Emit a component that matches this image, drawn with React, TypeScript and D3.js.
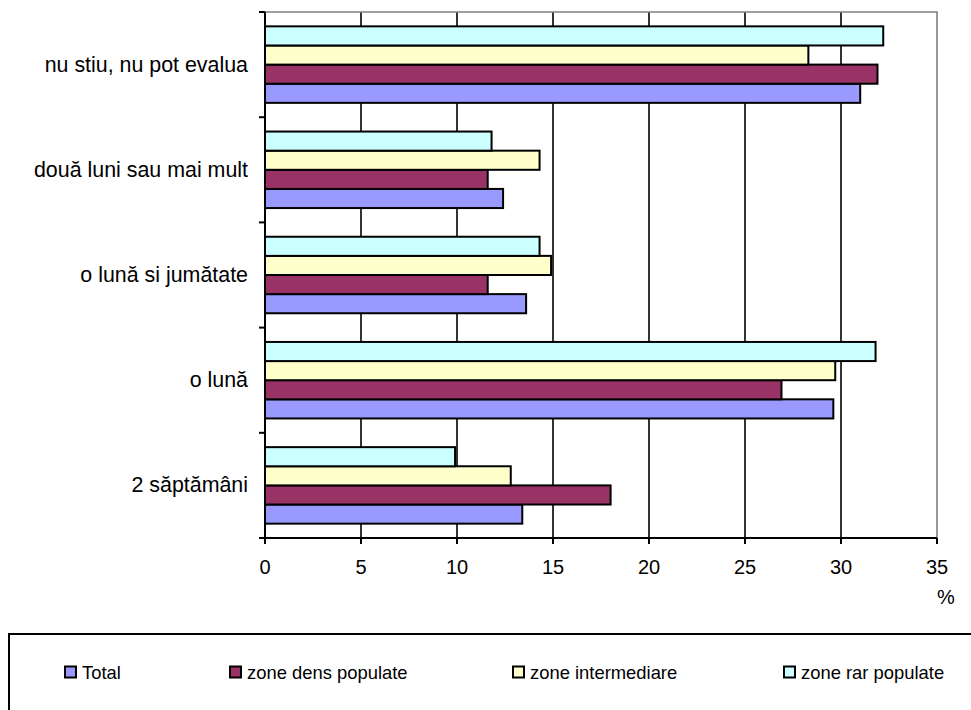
import { useEffect, useRef } from 'react'
import * as d3 from 'd3'

// data order is bottom-to-top, like the Excel source
const categories = [
  '2 săptămâni',
  'o lună',
  'o lună si jumătate',
  'două luni sau mai mult',
  'nu stiu, nu pot evalua',
]

const seriesNames = ['Total', 'zone dens populate', 'zone intermediare', 'zone rar populate']

const totalValues = [13.4, 29.6, 13.6, 12.4, 31.0]
const densValues = [18.0, 26.9, 11.6, 11.6, 31.9]
const intermediareValues = [12.8, 29.7, 14.9, 14.3, 28.3]
const rarValues = [9.9, 31.8, 14.3, 11.8, 32.2]

const xTicks = [0, 5, 10, 15, 20, 25, 30, 35]

const colors = ['#9999FF', '#993366', '#FFFFCC', '#CCFFFF']

const FONT = '"Liberation Sans", Arial, sans-serif'

export default function App() {
  const svgRef = useRef<SVGSVGElement>(null)

  useEffect(() => {
    if (!svgRef.current) return
    const svg = d3.select(svgRef.current)
    svg.selectAll('*').remove()

    const width = 971
    const height = 710
    const plot = { left: 265, right: 937, top: 12, bottom: 538 }

    const values = [totalValues, densValues, intermediareValues, rarValues]

    const xScale = d3.scaleLinear().domain([0, 35]).range([plot.left, plot.right])

    // top of chart is the last category
    const yScale = d3.scaleBand<string>()
      .domain([...categories].reverse())
      .range([plot.top, plot.bottom])
      .paddingInner(1.5 / 5.5)
      .paddingOuter(0.75 / 5.5)

    // inside a group the last series sits on top
    const innerScale = d3.scaleBand<string>()
      .domain([...seriesNames].reverse())
      .range([0, yScale.bandwidth()])

    const step = yScale.step()
    const bandTop = (c: string) => (yScale(c) ?? 0) - yScale.paddingOuter() * step

    svg.attr('width', width).attr('height', height)

    // vertical gridlines
    svg.append('g')
      .selectAll('line')
      .data(xTicks.slice(1, -1))
      .join('line')
      .attr('x1', d => xScale(d))
      .attr('x2', d => xScale(d))
      .attr('y1', plot.top)
      .attr('y2', plot.bottom)
      .attr('stroke', '#000')
      .attr('stroke-width', 1.6)

    // plot border (top & right are gray)
    svg.append('path')
      .attr('d', `M${plot.left},${plot.top}H${plot.right}V${plot.bottom}`)
      .attr('fill', 'none')
      .attr('stroke', '#808080')
      .attr('stroke-width', 1.6)

    // bars
    const groups = svg.append('g')
      .selectAll('g')
      .data(categories)
      .join('g')
      .attr('transform', c => `translate(0,${yScale(c)})`)

    groups.selectAll('rect')
      .data((_, ci) => seriesNames.map((s, si) => ({ s, si, v: values[si][ci] })))
      .join('rect')
      .attr('x', xScale(0))
      .attr('y', d => innerScale(d.s) ?? 0)
      .attr('width', d => xScale(d.v) - xScale(0))
      .attr('height', innerScale.bandwidth())
      .attr('fill', d => colors[d.si])
      .attr('stroke', '#000')
      .attr('stroke-width', 2)

    // left axis with ticks at the category boundaries
    const yAxis = svg.append('g')
    yAxis.append('line')
      .attr('x1', plot.left).attr('x2', plot.left)
      .attr('y1', plot.top).attr('y2', plot.bottom)
      .attr('stroke', '#000').attr('stroke-width', 2)
    const boundaries = [...categories.map(bandTop), plot.bottom]
    yAxis.selectAll('line.tick')
      .data(boundaries)
      .join('line')
      .attr('class', 'tick')
      .attr('x1', plot.left - 6).attr('x2', plot.left)
      .attr('y1', d => d).attr('y2', d => d)
      .attr('stroke', '#000').attr('stroke-width', 2)
    yAxis.selectAll('text')
      .data(categories)
      .join('text')
      .attr('x', 248)
      .attr('y', c => (yScale(c) ?? 0) + yScale.bandwidth() / 2)
      .attr('text-anchor', 'end')
      .attr('dominant-baseline', 'central')
      .attr('font-family', FONT)
      .attr('font-size', 21.4)
      .attr('fill', '#000')
      .text(c => c)

    // bottom axis
    const xAxis = svg.append('g')
    xAxis.append('line')
      .attr('x1', plot.left).attr('x2', plot.right)
      .attr('y1', plot.bottom).attr('y2', plot.bottom)
      .attr('stroke', '#000').attr('stroke-width', 2)
    xAxis.selectAll('line.tick')
      .data(xTicks)
      .join('line')
      .attr('class', 'tick')
      .attr('x1', d => xScale(d)).attr('x2', d => xScale(d))
      .attr('y1', plot.bottom).attr('y2', plot.bottom + 6)
      .attr('stroke', '#000').attr('stroke-width', 2)
    xAxis.selectAll('text')
      .data(xTicks)
      .join('text')
      .attr('x', d => xScale(d))
      .attr('y', 567)
      .attr('text-anchor', 'middle')
      .attr('dominant-baseline', 'central')
      .attr('font-family', FONT)
      .attr('font-size', 20)
      .attr('fill', '#000')
      .text(d => String(d))

    svg.append('text')
      .attr('x', plot.right)
      .attr('y', 597)
      .attr('dominant-baseline', 'central')
      .attr('font-family', FONT)
      .attr('font-size', 20)
      .attr('fill', '#000')
      .text('%')

    // legend box runs off the page on the right and bottom
    svg.append('rect')
      .attr('x', 9)
      .attr('y', 634)
      .attr('width', 1000)
      .attr('height', 120)
      .attr('fill', '#fff')
      .attr('stroke', '#000')
      .attr('stroke-width', 2)

    const legendX = [64, 229, 512, 783]
    const legend = svg.append('g')
      .selectAll('g')
      .data(seriesNames)
      .join('g')
      .attr('transform', (_, i) => `translate(${legendX[i]},672)`)
    legend.append('rect')
      .attr('x', 1)
      .attr('y', -5.5)
      .attr('width', 11)
      .attr('height', 11)
      .attr('fill', (_, i) => colors[i])
      .attr('stroke', '#000')
      .attr('stroke-width', 2)
    legend.append('text')
      .attr('x', 18)
      .attr('y', 0)
      .attr('dominant-baseline', 'central')
      .attr('font-family', FONT)
      .attr('font-size', 18.4)
      .attr('fill', '#000')
      .text(d => d)
  }, [])

  return (
    <div style={{ position: 'absolute', left: 0, top: 0, background: '#fff' }}>
      <svg ref={svgRef} style={{ display: 'block' }} />
    </div>
  )
}
